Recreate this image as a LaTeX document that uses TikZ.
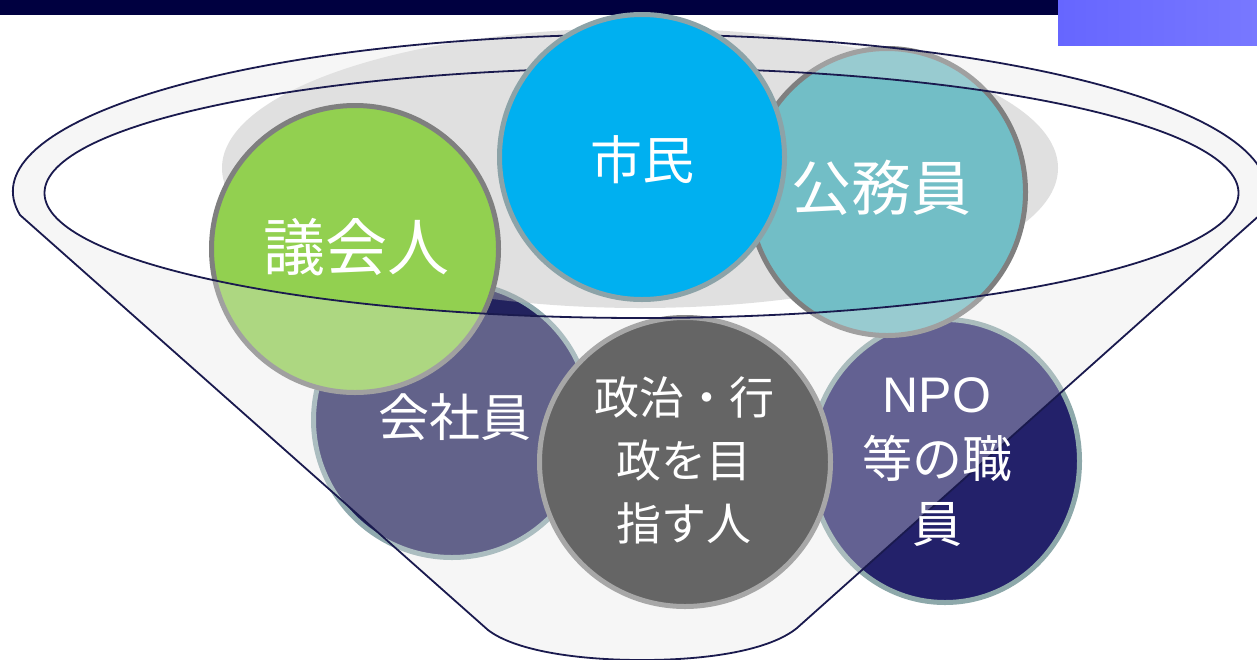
\documentclass[tikz,border=0pt]{standalone}
\usepackage{fontspec}
\newfontfamily\jp{Noto Sans CJK JP}
\newfontfamily\lat{Liberation Sans}
\definecolor{barnavy}{HTML}{000040}
\definecolor{barpurpA}{HTML}{6666FF}
\definecolor{barpurpB}{HTML}{7878FF}
\definecolor{kaisha}{HTML}{22225E}
\definecolor{kaishaB}{HTML}{8FA9AE}
\definecolor{npo}{HTML}{23216A}
\definecolor{npoB}{HTML}{8DA8AA}
\definecolor{seiji}{HTML}{262626}
\definecolor{seijiB}{HTML}{898989}
\definecolor{shadowc}{HTML}{B4B4B4}
\definecolor{gikai}{HTML}{92D050}
\definecolor{koumu}{HTML}{72BEC6}
\definecolor{grayB}{HTML}{7F7F7F}
\definecolor{funnelfill}{HTML}{E6E6E6}
\definecolor{funnelc}{HTML}{1A1A4E}
\definecolor{shimin}{HTML}{00B0F0}
\definecolor{shiminB}{HTML}{8CA3A8}
\begin{document}
\begin{tikzpicture}[x=1pt,y=-1pt,
  txt/.style={text=white, inner sep=0pt, align=center},
  funnelline/.style={draw=funnelc, line width=1.8pt},
  ring/.style={line width=5pt}
]
\useasboundingbox (0,0) rectangle (1257,659);
\fill[white] (0,0) rectangle (1257,659);
% top bars
\fill[barnavy] (0,0) rectangle (1058,15);
\shade[left color=barpurpA, right color=barpurpB] (1058,0) rectangle (1257,45);
% lower circles
\filldraw[fill=kaisha, draw=kaishaB, ring] (452,420) ellipse [x radius=138.5pt, y radius=137.5pt];
\filldraw[fill=npo, draw=npoB, ring] (945,461) ellipse [x radius=134.5pt, y radius=141.5pt];
\filldraw[fill=seiji, draw=seijiB, ring] (685,462) ellipse [x radius=145.5pt, y radius=144.5pt];
% shadow ellipse
\fill[shadowc, opacity=0.41] (640,168) ellipse [x radius=418pt, y radius=140pt];
% side top circles
\filldraw[fill=gikai, draw=grayB, ring] (355,249) ellipse [x radius=143.5pt, y radius=143.5pt];
\filldraw[fill=koumu, draw=grayB, ring] (887,192) ellipse [x radius=138.5pt, y radius=143.5pt];
% funnel body
\coordinate (fl) at (20,215);
\coordinate (flb) at (488,630);
\coordinate (frb) at (797,628);
\coordinate (fbot) at (642,660);
\coordinate (ic) at (641.5,193);
\path[fill=funnelfill, fill opacity=0.33, even odd rule]
  (fl) arc[start angle=188.6, end angle=-8.6, x radius=627pt, y radius=157pt]
  -- (frb) .. controls (770,650) and (710,660) .. (fbot)
  .. controls (574,660) and (514,650) .. (flb) -- cycle
  (ic) ellipse [x radius=597pt, y radius=125pt];
\draw[funnelline, line join=round]
  (fl) arc[start angle=188.6, end angle=-8.6, x radius=627pt, y radius=157pt]
  -- (frb) .. controls (770,650) and (710,660) .. (fbot)
  .. controls (574,660) and (514,650) .. (flb) -- cycle;
\draw[funnelline] (ic) ellipse [x radius=597pt, y radius=125pt];
% top centre circle
\filldraw[fill=shimin, draw=shiminB, ring] (642,157) circle [radius=142.5pt];
% texts
\node[txt, font=\jp\fontsize{52}{60}\selectfont] (tshimin) at (642,160) {市民};
\node[txt, font=\jp\fontsize{62}{70}\selectfont] (tgikai) at (356,247) {議会人};
\node[txt, font=\jp\fontsize{60}{68}\selectfont] (tkoumu) at (881,188) {公務員};
\node[txt, font=\jp\fontsize{51}{60}\selectfont] (tkaisha) at (455,417) {会社員};
\node[txt, font=\jp\fontsize{45}{63}\selectfont] (tseiji) at (684,460) {政治・行\\政を目\\指す人};
\node[txt, font=\jp\fontsize{50}{65}\selectfont] (tnpo) at (937,462) {{\lat NPO}\\等の職\\員};
\end{tikzpicture}
\end{document}
